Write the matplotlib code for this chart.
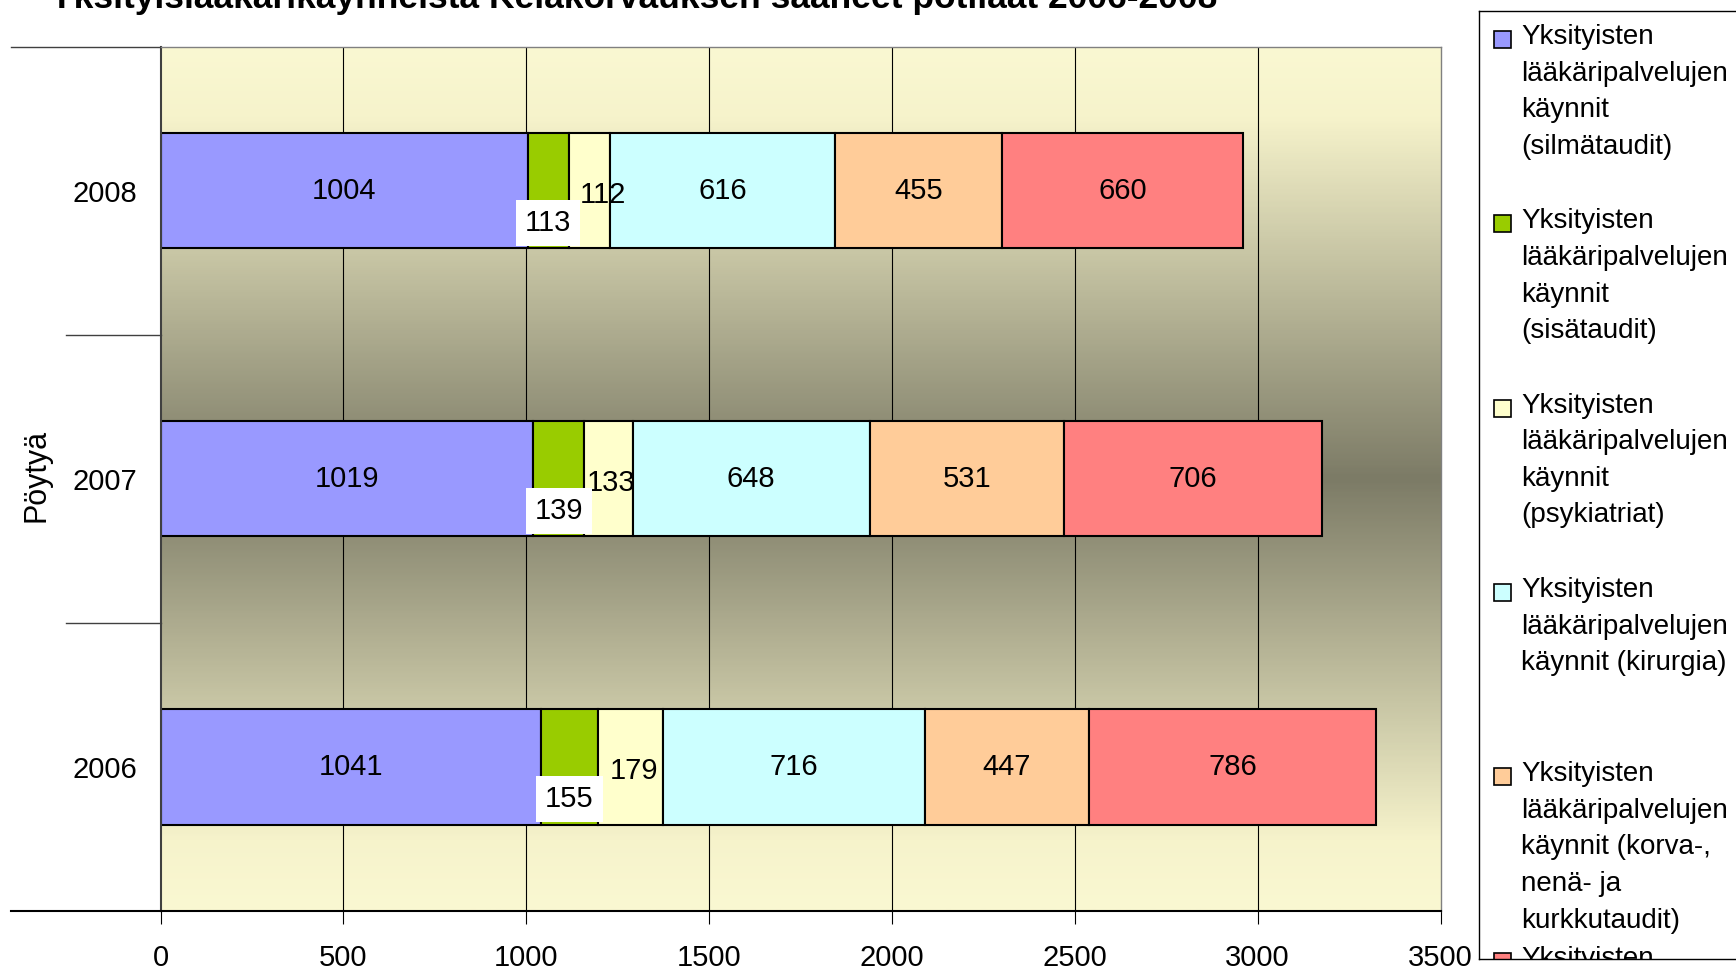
import matplotlib
matplotlib.use("Agg")
import matplotlib.pyplot as plt
import numpy as np
from matplotlib.colors import LinearSegmentedColormap
from matplotlib.patches import Rectangle
import matplotlib.transforms as mtransforms

plt.rcParams['font.family'] = ['Liberation Sans', 'DejaVu Sans']

years = ['2006', '2007', '2008']
series_names = [
    "Yksityisten\nlääkäripalvelujen\nkäynnit\n(silmätaudit)",
    "Yksityisten\nlääkäripalvelujen\nkäynnit\n(sisätaudit)",
    "Yksityisten\nlääkäripalvelujen\nkäynnit\n(psykiatriat)",
    "Yksityisten\nlääkäripalvelujen\nkäynnit (kirurgia)",
    "Yksityisten\nlääkäripalvelujen\nkäynnit (korva-,\nnenä- ja\nkurkkutaudit)",
    "Yksityisten\nlääkäripalvelujen\nkäynnit (muut)",
]
silmataudit = [1041, 1019, 1004]
sisataudit = [155, 139, 113]
psykiatriat = [179, 133, 112]
kirurgia = [716, 648, 616]
korva = [447, 531, 455]
muut = [786, 706, 660]
values = [silmataudit, sisataudit, psykiatriat, kirurgia, korva, muut]
colors = ['#9999FF', '#99CC00', '#FFFFCC', '#CCFFFF', '#FFCC99', '#FF8080']
xticks = [0, 500, 1000, 1500, 2000, 2500, 3000, 3500]
title = "Yksityislääkärikäynneistä Kelakorvauksen saaneet potilaat 2006-2008"
ylabel = "Pöytyä"

W, H = 1736, 973
fig = plt.figure(figsize=(W / 100, H / 100), dpi=100)
ax = fig.add_axes([160.5 / W, (H - 911) / H, 1280 / W, (911 - 46.5) / H])

# background gradient
cmap = LinearSegmentedColormap.from_list('bg', [(0, '#FAF8D2'), (0.08, '#F6F3CB'), (0.5, '#7C7B66'),
                                                (0.92, '#F6F3CB'), (1, '#FAF8D2')])
grad = np.linspace(0, 1, 400).reshape(-1, 1)
ax.imshow(grad, cmap=cmap, extent=[0, 3500, -0.5, 2.5], aspect='auto', zorder=0,
          origin='upper', interpolation='bilinear')

ax.set_xlim(0, 3500)
ax.set_ylim(-0.5, 2.5)

for xv in xticks[1:-1]:
    ax.axvline(xv, color='black', lw=0.8, zorder=1)

y = np.arange(len(years))
left = np.zeros(len(years))
bar_h = 0.40
for si, (vals, col) in enumerate(zip(values, colors)):
    vals = np.array(vals, dtype=float)
    ax.barh(y, vals, left=left, height=bar_h, color=col, edgecolor='black', lw=1.5, zorder=2)
    for yi, (l, v) in enumerate(zip(left, vals)):
        cx = l + v / 2
        if si == 1:
            ax.text(cx, yi - 0.112, f"{int(v)}", ha='center', va='center', fontsize=21, zorder=4,
                    bbox=dict(boxstyle='square,pad=0.3', fc='white', ec='none'))
        elif si == 2:
            # nudge right so it clears the boxed label of the previous segment
            shift = 36 if v < 120 else 8
            ax.text(cx + shift, yi - 0.015, f"{int(v)}",
                    ha='center', va='center', fontsize=21, zorder=3)
        else:
            ax.text(cx, yi, f"{int(v)}", ha='center', va='center', fontsize=21, zorder=3)
    left = left + vals

ax.set_yticks(y)
ax.set_yticklabels(years, fontsize=21)
ax.set_xticks(xticks)
ax.set_xticklabels([str(t) for t in xticks], fontsize=21)
ax.tick_params(axis='y', length=0, pad=17)
ax.tick_params(axis='x', length=9, width=0.8, pad=15, color='black')

for s in ['top', 'right']:
    ax.spines[s].set_color('#808080')
    ax.spines[s].set_linewidth(1.0)
ax.spines['left'].set_color('#404040')
ax.spines['left'].set_linewidth(1.5)
ax.spines['bottom'].set_color('black')
ax.spines['bottom'].set_linewidth(1.5)

trans = mtransforms.blended_transform_factory(ax.transAxes, ax.transData)
ax.plot([-0.117, 0], [2.5, 2.5], transform=trans, color='#404040', lw=1.0, clip_on=False)
ax.plot([-0.117, 0], [-0.5, -0.5], transform=trans, color='black', lw=1.5, clip_on=False)
for yb in [0.5, 1.5]:
    ax.plot([-0.074, 0], [yb, yb], transform=trans, color='#404040', lw=1.0, clip_on=False)

fig.text(36 / W, (H - 475) / H, ylabel, rotation=90, ha='center', va='center', fontsize=22)

fig.text(634 / W, (H - 8) / H, title, ha='center', va='baseline', fontsize=25.5, fontweight='bold',
         family=['Liberation Sans Narrow', 'Liberation Sans', 'DejaVu Sans'])

# legend box
lax = fig.add_axes([1479 / W, (H - 959) / H, (W - 1479 + 20) / W, (959 - 11) / H])
lax.set_xlim(0, 1)
lax.set_ylim(948, 0)
lax.set_xticks([])
lax.set_yticks([])
for s in lax.spines.values():
    s.set_color('black')
    s.set_linewidth(1.0)
lw_px = W - 1479 + 20
entry_top = 13
spacing = 184.3
for i, (name, col) in enumerate(zip(series_names, colors)):
    ty = entry_top + i * spacing
    lax.add_patch(Rectangle((15 / lw_px, ty + 7), 17 / lw_px, 17, fc=col, ec='black', lw=1.2,
                            clip_on=True))
    lax.text(42 / lw_px, ty, name, ha='left', va='top', fontsize=20, linespacing=1.53,
             clip_on=True)

fig.savefig('out.png', dpi=100)
